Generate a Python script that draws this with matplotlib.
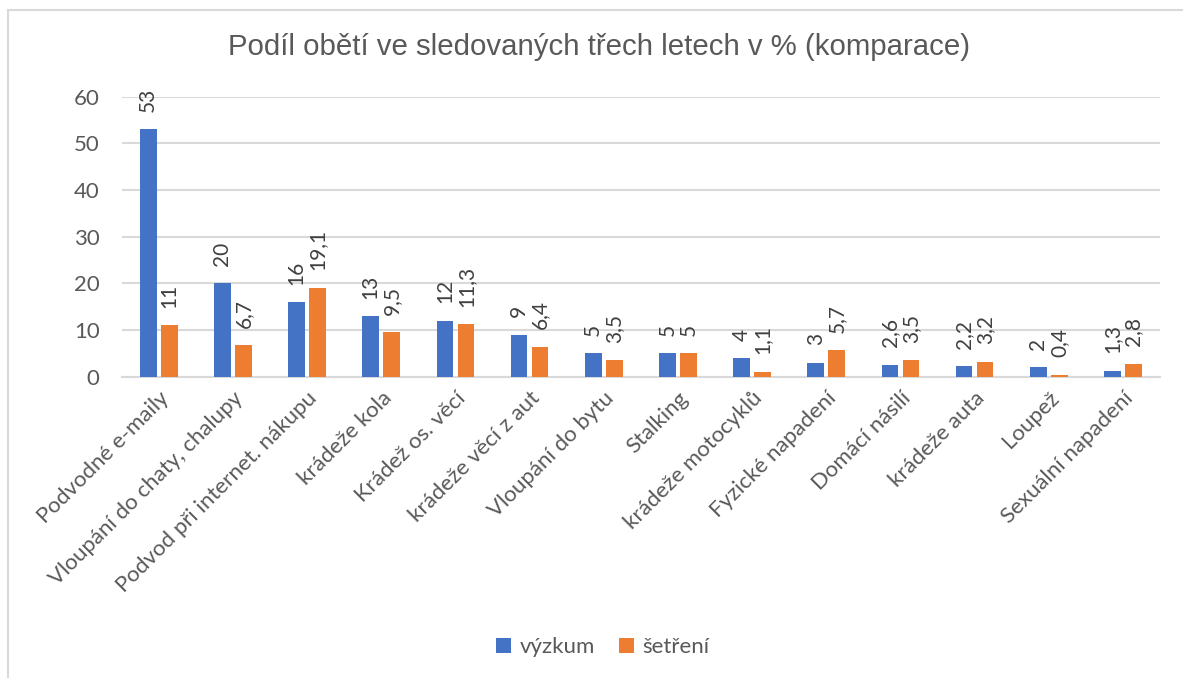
import matplotlib
matplotlib.use("Agg")
import matplotlib.pyplot as plt
from matplotlib.patches import Rectangle
import numpy as np

categories = ["Podvodné e-maily", "Vloupání do chaty, chalupy", "Podvod při internet. nákupu",
              "krádeže kola", "Krádež os. věcí", "krádeže věcí z aut", "Vloupání do bytu",
              "Stalking", "krádeže motocyklů", "Fyzické napadení", "Domácí násilí",
              "krádeže auta", "Loupež", "Sexuální napadení"]
vyzkum = [53, 20, 16, 13, 12, 9, 5, 5, 4, 3, 2.6, 2.2, 2, 1.3]
setreni = [11, 6.7, 19.1, 9.5, 11.3, 6.4, 3.5, 5, 1.1, 5.7, 3.5, 3.2, 0.4, 2.8]
series_names = ["výzkum", "šetření"]
yticks = [0, 10, 20, 30, 40, 50, 60]

BLUE = "#4472C4"
ORANGE = "#ED7D31"
TXT = "#595959"
GRID = "#D9D9D9"
FONT = "Lato"

W, H = 1183, 678
fig = plt.figure(figsize=(W / 100, H / 100), dpi=100)
fig.patch.set_facecolor("white")

# chart border
fig.patches.append(Rectangle((8 / W, -0.05), 1.1, 1 - 10 / H + 0.05, transform=fig.transFigure,
                             fill=False, edgecolor=GRID, linewidth=1.5))

ax = fig.add_axes([121.7 / W, 1 - 376.7 / H, (1160 - 121.7) / W, (376.7 - 96.7) / H])
x = np.arange(len(categories))
bw = 0.225
off = 0.142
b1 = ax.bar(x - off, vyzkum, bw, color=BLUE, label=series_names[0], zorder=3)
b2 = ax.bar(x + off, setreni, bw, color=ORANGE, label=series_names[1], zorder=3)

def fmt(v):
    return ("%g" % v).replace(".", ",")

for bars, vals in ((b1, vyzkum), (b2, setreni)):
    for rect, v in zip(bars, vals):
        ax.annotate(fmt(v), (rect.get_x() + rect.get_width() / 2, v), xytext=(0, 12.5),
                    textcoords="offset points", rotation=90, ha="center", va="bottom",
                    fontsize=15, color="#404040", family=FONT)

ax.set_xlim(-0.5, len(categories) - 0.5)
ax.set_ylim(0, 60)
ax.set_yticks(yticks)
ax.set_yticklabels([str(t) for t in yticks], fontsize=16, color=TXT, family=FONT)
ax.tick_params(axis="y", length=0, pad=16)
ax.tick_params(axis="x", length=0, pad=8)
ax.set_xticks(x)
ax.set_xticklabels(categories, rotation=45, ha="right", va="top", rotation_mode="anchor",
                   fontsize=16, color=TXT, family=FONT)
ax.grid(axis="y", color=GRID, linewidth=1.5, zorder=0)
for s in ["top", "right", "left"]:
    ax.spines[s].set_visible(False)
ax.spines["bottom"].set_color(GRID)
ax.spines["bottom"].set_linewidth(1.5)
ax.set_facecolor("none")

fig.text(599 / W, 1 - 47 / H, "Podíl obětí ve sledovaných třech letech v % (komparace)",
         ha="center", va="center", fontsize=21.2, color=TXT, family="Liberation Sans")

fig.legend(handles=[b1, b2], labels=series_names, loc="center", bbox_to_anchor=(603 / W, 1 - 647 / H),
           ncol=2, frameon=False, prop={"family": FONT, "size": 16}, labelcolor=TXT,
           handlelength=0.65, handleheight=0.65, handletextpad=0.4, columnspacing=1.1)

fig.savefig("out.png", dpi=100)
